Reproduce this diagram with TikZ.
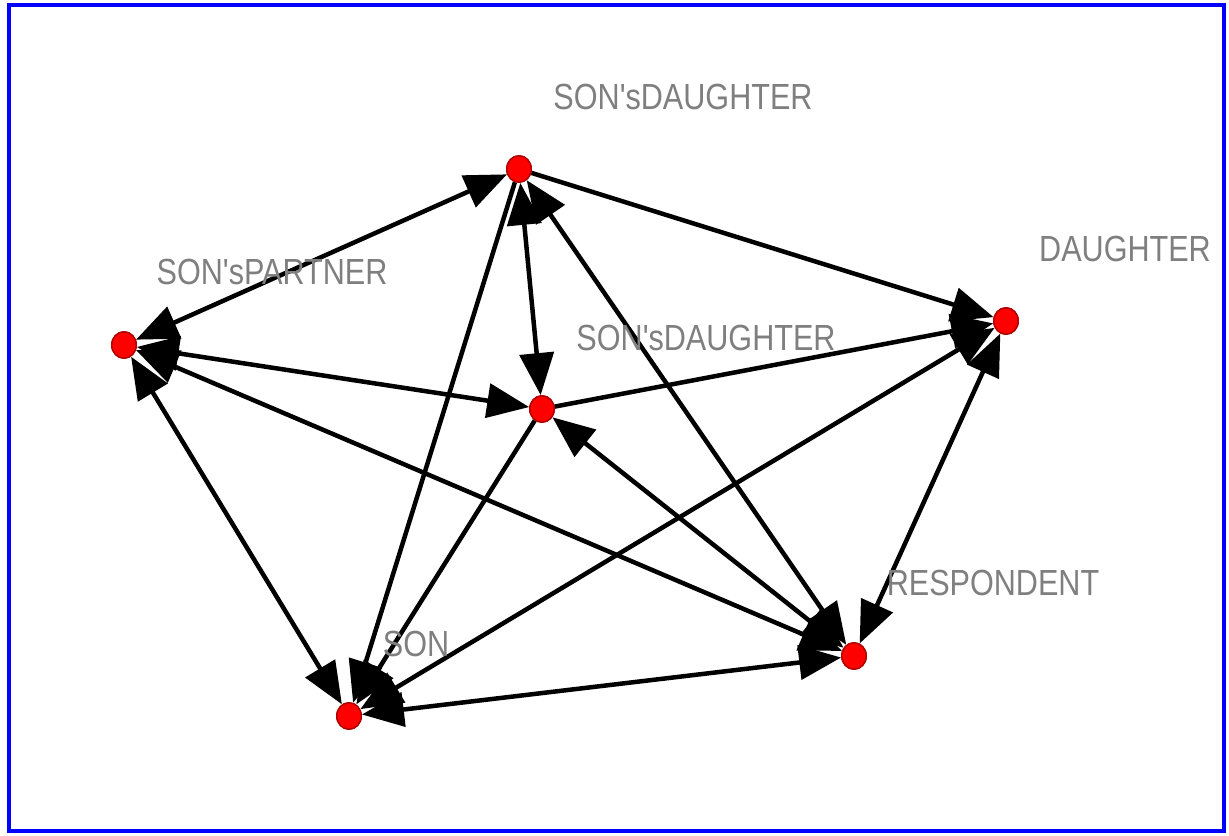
\documentclass[tikz,border=0pt]{standalone}
\usepackage{fontspec}
\usepackage{graphicx}
\newfontfamily\labfont{Liberation Sans}
\usetikzlibrary{arrows.meta}
\definecolor{labgray}{HTML}{7F7F7F}
\definecolor{nodered}{HTML}{FF0000}
\definecolor{nodeedge}{HTML}{B00000}
\definecolor{frameblue}{HTML}{0000FF}
\tikzset{
  dot/.style={ellipse,fill=nodered,draw=nodeedge,line width=0.4pt,minimum width=0.245cm,minimum height=0.265cm,inner sep=0pt},
  lab/.style={text=labgray,inner sep=0pt,font=\labfont\fontsize{10.33pt}{12pt}\selectfont},
  edge/.style={line width=0.045cm,black,>={Triangle[length=0.42cm,width=0.34cm]}}
}
\usetikzlibrary{shapes.geometric}
\newcommand{\lbl}[1]{\scalebox{0.842}[1]{#1}}
\begin{document}
\begin{tikzpicture}[x=0.01cm,y=-0.01cm]
\useasboundingbox (0,0) rectangle (1229,836);
\fill[white] (0,0) rectangle (1229,836);
\draw[frameblue,line width=0.04cm] (9,5) rectangle (1224,831);
% node coordinates
\coordinate (pA) at (519,169);
\coordinate (pB) at (124,345);
\coordinate (pC) at (542,409);
\coordinate (pD) at (1006,321);
\coordinate (pE) at (854,656);
\coordinate (pF) at (349,716);
\node[dot] (A) at (pA) {};
\node[dot] (B) at (pB) {};
\node[dot] (C) at (pC) {};
\node[dot] (D) at (pD) {};
\node[dot] (E) at (pE) {};
\node[dot] (F) at (pF) {};
% edges
\draw[edge,<->] (A) -- (B);
\draw[edge,->] (A) -- (D);
\draw[edge,<->] (A) -- (C);
\draw[edge,->] (A) -- (F);
\draw[edge,<->] (A) -- (E);
\draw[edge,<->] (B) -- (C);
\draw[edge,<->] (B) -- (E);
\draw[edge,<->] (B) -- (F);
\draw[edge,->] (C) -- (D);
\draw[edge,->] (C) -- (F);
\draw[edge,<->] (C) -- (E);
\draw[edge,<->] (D) -- (E);
\draw[edge,<->] (D) -- (F);
\draw[edge,<->] (E) -- (F);
% redraw nodes on top
\node[dot] at (pA) {};
\node[dot] at (pB) {};
\node[dot] at (pC) {};
\node[dot] at (pD) {};
\node[dot] at (pE) {};
\node[dot] at (pF) {};
% labels
\node[lab] (lA) at (683,97) {\lbl{SON'sDAUGHTER}};
\node[lab] (lB) at (272,272) {\lbl{SON'sPARTNER}};
\node[lab] (lC) at (706,338) {\lbl{SON'sDAUGHTER}};
\node[lab] (lD) at (1125,249) {\lbl{DAUGHTER}};
\node[lab] (lE) at (993,583) {\lbl{RESPONDENT}};
\node[lab] (lF) at (416,644) {\lbl{SON}};
\end{tikzpicture}
\end{document}
